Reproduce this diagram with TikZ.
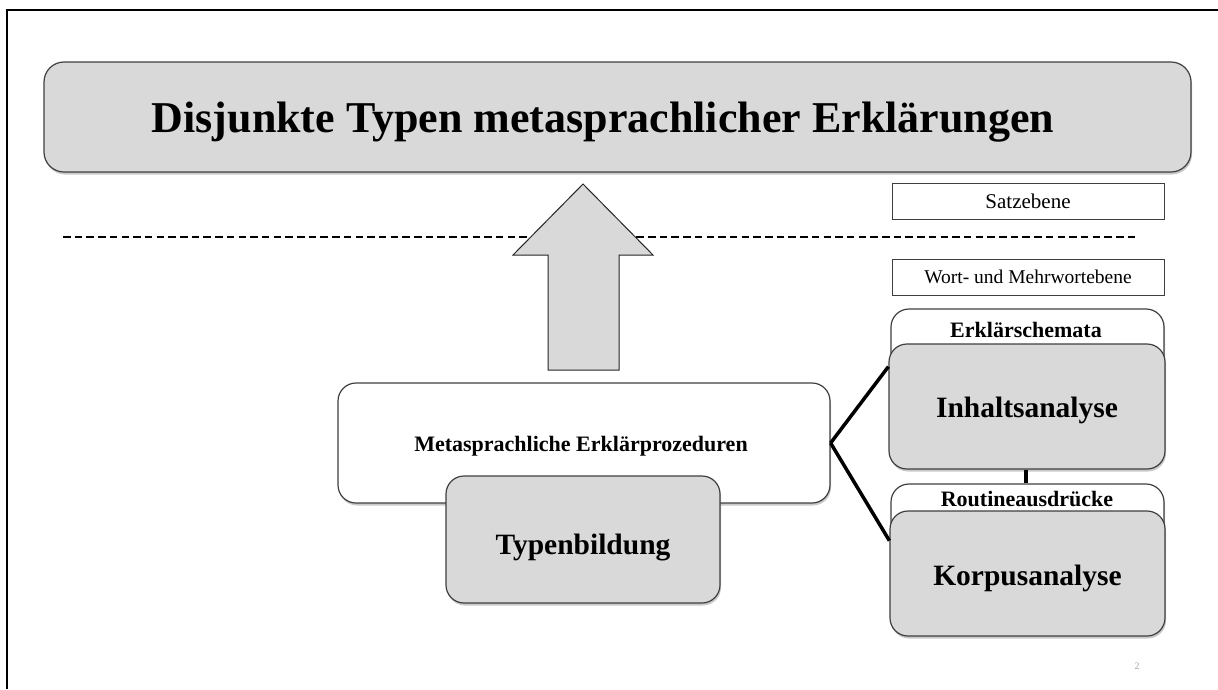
\documentclass[tikz,border=0pt]{standalone}
\usepackage{fontspec}
\setmainfont{Liberation Serif}
\usetikzlibrary{calc,shadows}
\definecolor{boxgray}{HTML}{D9D9D9}
\definecolor{edgegray}{HTML}{3F3F3F}
% set a label with its baseline a fixed distance below the node centre
\newcommand{\lowered}[2]{\raisebox{-#1}[0pt][0pt]{#2}}
\begin{document}
\begin{tikzpicture}[x=1pt,y=-1pt,
  softshadow/.style={drop shadow={shadow xshift=1pt,shadow yshift=-2.5pt,opacity=0.35,fill=black!60}},
  graybox/.style={draw=edgegray,line width=1.2pt,fill=boxgray,rounded corners=18pt,softshadow,inner sep=0pt},
  whitebox/.style={draw=edgegray,line width=1.2pt,fill=white,rounded corners=18pt,softshadow,inner sep=0pt},
  levelbox/.style={draw=edgegray,line width=0.8pt,fill=white,inner sep=0pt,minimum width=272pt,minimum height=36pt},
  bigbold/.style={font=\fontsize{29.5}{32}\selectfont\bfseries},
  midbold/.style={font=\fontsize{22}{24}\selectfont\bfseries},
  link/.style={line width=3.5pt,black}]
\useasboundingbox (0,0) rectangle (1218,689);
\fill[white] (0,0) rectangle (1218,689);
% page frame
\draw[line width=2.2pt] (7,689) -- (7,10) -- (1218,10);

% heading
\node[graybox,rounded corners=20pt,minimum width=1147pt,minimum height=110pt] (title) at (617.5,117) {};
\node[font=\fontsize{44}{48}\selectfont\bfseries] (titletxt) at (603,122.5)
  {Disjunkte Typen metasprachlicher Erklärungen};

% level labels and separator
\node[levelbox,font=\fontsize{21}{23}\selectfont] (satz) at (1028,201) {Satzebene};
\node[levelbox,font=\fontsize{19.5}{22}\selectfont] (wort) at (1028,277) {Wort- und Mehrwortebene};
\coordinate (dashL) at (63,237);
\coordinate (dashR) at (1135,237);
\draw[line width=2.2pt,dash pattern=on 7.5pt off 4.2pt] (dashL) -- (dashR);

% upward block arrow
\filldraw[draw=black!85,line width=1pt,fill=boxgray]
  (548,370) -- (548,255) -- (513,255) -- (583,184) -- (653,255) -- (619,255) -- (619,370) -- cycle;

% procedures and type formation
\node[whitebox,minimum width=492pt,minimum height=120pt] (meta) at (584,443) {};
\node[midbold] (metatxt) at (581,446) {Metasprachliche Erklärprozeduren};
\node[graybox,bigbold,minimum width=274pt,minimum height=127pt] (typ) at (583,539.5)
  {\lowered{15pt}{Typenbildung}};

% right column: explanation schemata
\node[whitebox,minimum width=273pt,minimum height=92pt] (erk) at (1027.5,355) {};
\node[midbold] (erktxt) at (1026,330) {Erklärschemata};
\node[graybox,bigbold,minimum width=276pt,minimum height=125pt] (inh) at (1027,406.5)
  {\lowered{10.5pt}{Inhaltsanalyse}};

% right column: routine expressions
\node[whitebox,minimum width=273pt,minimum height=80pt] (rout) at (1027.5,524) {};
\node[midbold] (routtxt) at (1027,499) {Routineausdrücke};
\node[graybox,bigbold,minimum width=275pt,minimum height=125pt] (korp) at (1027.5,573.5)
  {\lowered{11.5pt}{Korpusanalyse}};

% connectors
\draw[link] (inh.south -| 1026,0) -- (rout.north -| 1026,0);
\draw[link] (meta.east) -- ($(inh.north west)!0.184!(inh.south west)$);
\draw[link] (meta.east) -- ($(korp.north west)!0.24!(korp.south west)$);

% page number
\node[text=black!35,font=\fontsize{10}{11}\selectfont] (pagenum) at (1137,666) {2};
\end{tikzpicture}
\end{document}
